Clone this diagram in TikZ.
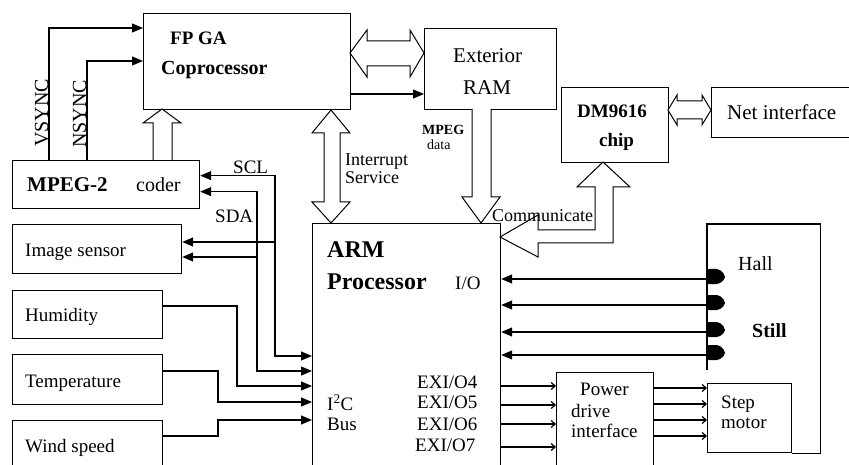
\documentclass[tikz,border=0pt]{standalone}
\usepackage{fontspec}
\setmainfont{Liberation Serif}
\usetikzlibrary{arrows.meta, calc}

\begin{document}
\begin{tikzpicture}[x=1pt, y=-1pt,
  blk/.style={draw, line width=1.2pt, inner sep=0pt, anchor=north west},
  txt/.style={anchor=base west, inner sep=0pt, font=\fontsize{#1}{#1}\selectfont},
  txt/.default=19,
  btxt/.style={anchor=base west, inner sep=0pt, font=\fontsize{#1}{#1}\selectfont\bfseries},
  btxt/.default=19,
  wire/.style={line width=1.2pt},
  arr/.style={wire, -{Triangle[length=11pt,width=9pt]}},
  darr/.style={wire, {Triangle[length=11pt,width=9pt]}-{Triangle[length=11pt,width=9pt]}},
  thinarr/.style={wire, -{Straight Barb[length=4pt,width=7pt]}},
  hollow/.style={draw, line width=1pt, fill=white, line join=miter}
]
  \useasboundingbox (0,0) rectangle (849,465);

  % Blocks
  \node[blk, minimum width=207pt, minimum height=96pt] (fpga) at (143,13) {};
  \node[blk, minimum width=132pt, minimum height=81pt] (ram) at (424,28) {};
  \node[blk, minimum width=107pt, minimum height=75pt] (dm) at (561,87) {};
  \node[blk, minimum width=150pt, minimum height=50pt] (net) at (711,87) {};
  \node[blk, minimum width=187pt, minimum height=48pt] (mpeg) at (12,160) {};
  \node[blk, minimum width=169pt, minimum height=49pt] (img) at (12,224) {};
  \node[blk, minimum width=150pt, minimum height=48pt] (hum) at (12,290) {};
  \node[blk, minimum width=150pt, minimum height=50pt] (temp) at (12,354) {};
  \node[blk, minimum width=150pt, minimum height=60pt] (wind) at (12,420) {};
  \node[blk, minimum width=188pt, minimum height=260pt] (arm) at (312,223) {};
  \node[blk, minimum width=97pt, minimum height=110pt] (power) at (556,372) {};
  \node[blk, minimum width=84pt, minimum height=69pt] (step) at (707,383) {};
  \node[blk, draw=none, minimum width=112pt, minimum height=228pt] (hall) at (707,224) {};
  \draw[wire] ([yshift=-146pt]hall.north west) -- (hall.north west) -- (hall.north east)
    -- (hall.south east) -- (step.south east);

  % Texts
  \node[btxt] (fpgat1) at (170,45) {FP GA};
  \node[btxt=20] (fpgat2) at (161,75) {Coprocessor};
  \node[txt=21] (ramt1) at (453,63) {Exterior};
  \node[txt=21] (ramt2) at (463,95) {RAM};
  \node[btxt=14] (mdat1) at (422,135) {MPEG};
  \node[txt=14] (mdat2) at (427,150) {data};
  \node[btxt] (dmt1) at (577,118) {DM9616};
  \node[btxt] (dmt2) at (599,147) {chip};
  \node[txt=21] (nett) at (727,120) {Net interface};
  \node[btxt=21] (mpegt1) at (27,192) {MPEG-2};
  \node[txt=20] (mpegt2) at (136,192) {coder};
  \node[txt] (sclt) at (233,174) {SCL};
  \node[txt] (sdat) at (215,223) {SDA};
  \node[txt=20, rotate=90] (vsynct) at (48,147) {VSYNC};
  \node[txt=20, rotate=90] (nsynct) at (86,148) {NSYNC};
  \node[txt=18] (intt1) at (345,166) {Interrupt};
  \node[txt=18] (intt2) at (345,184) {Service};
  \node[txt] (imgt) at (25,257) {Image sensor};
  \node[txt] (humt) at (25,321) {Humidity};
  \node[txt] (tempt) at (25,387) {Temperature};
  \node[txt] (windt) at (25,452) {Wind speed};
  \node[btxt=24] (armt1) at (327,258) {ARM};
  \node[btxt=24] (armt2) at (327,290) {Processor};
  \node[txt] (iot) at (455,290) {I/O};
  \node[txt] (i2ct) at (327,410) {I\textsuperscript{2}C};
  \node[txt] (bust) at (327,430) {Bus};
  \node[txt] (exi4) at (417,388) {EXI/O4};
  \node[txt] (exi5) at (417,408) {EXI/O5};
  \node[txt] (exi6) at (417,430) {EXI/O6};
  \node[txt] (exi7) at (415,451) {EXI/O7};
  \node[txt=20] (hallt) at (738,270) {Hall};
  \node[btxt=20] (stillt) at (752,337) {Still};
  \node[txt] (powt1) at (580,395) {Power};
  \node[txt] (powt2) at (571,417) {drive};
  \node[txt] (powt3) at (571,437) {interface};
  \node[txt] (stept1) at (721,408) {Step};
  \node[txt] (stept2) at (721,428) {motor};

  % Sync lines
  \draw[arr] ([xshift=37pt]mpeg.north west) |- ([yshift=-15pt]fpga.north west);
  \draw[arr] ([xshift=75pt]mpeg.north west) |- ([yshift=-48pt]fpga.north west);
  \draw[arr] ([yshift=-81pt]fpga.north east) -- ([yshift=-66pt]ram.north west);

  % I2C bus
  \draw[darr] ([yshift=9pt]mpeg.east) -| (275,356) -- (arm.west |- 0,356);
  \draw[darr] ([yshift=-7pt]mpeg.east) -| (257,371) -- (arm.west |- 0,371);
  \draw[arr] (275,242) -- (img.east |- 0,242);
  \draw[arr] (257,257) -- (img.east |- 0,257);
  \draw[arr] (hum.east |- 0,306) -| (237,386) -- (arm.west |- 0,386);
  \draw[arr] (temp.east |- 0,371) -| (218,402) -- (arm.west |- 0,402);
  \draw[arr] (wind.east |- 0,436) -| (218,420) -- (arm.west |- 0,420);

  % Hall sensors
  \foreach \y in {279,305,332,355} {
    \draw[arr] (hall.west |- 0,\y) -- (arm.east |- 0,\y);
    \fill[rounded corners=2pt] (707,\y-10) -- (719,\y-10) -- (725,\y-4)
      -- (725,\y) -- (719,\y+5) -- (707,\y+5) -- cycle;
  }

  % Motor drive
  \foreach \y in {386,405,424,447}
    \draw[thinarr] (arm.east |- 0,\y) -- (power.west |- 0,\y);
  \foreach \y in {388,404,420,436}
    \draw[thinarr] (power.east |- 0,\y) -- (step.west |- 0,\y);

  % Bus arrows
  \draw[hollow] (350,53) -- (367,30) -- (367,41) -- (410,41) -- (410,30) -- (424,53)
    -- (410,77) -- (410,66) -- (367,66) -- (367,77) -- cycle;
  \draw[hollow] (153,160) -- (153,123) -- (143,123) -- (162,109) -- (181,123)
    -- (172,123) -- (172,160);
  \draw[hollow] (331,110) -- (350,133) -- (340,133) -- (340,202) -- (350,202)
    -- (331,223) -- (312,202) -- (324,202) -- (324,133) -- (312,133) -- cycle;
  \draw[hollow] (472,109) -- (472,197) -- (462,197) -- (481,223) -- (500,197)
    -- (491,197) -- (491,109);
  \draw[hollow] (500,237) -- (538,215) -- (538,230) -- (595,230) -- (595,187)
    -- (577,187) -- (603,162) -- (630,187) -- (613,187) -- (613,243)
    -- (538,243) -- (538,257) -- cycle;
  \draw[hollow] (668,110) -- (677,95) -- (677,101) -- (702,101) -- (702,95) -- (711,110)
    -- (702,125) -- (702,119) -- (677,119) -- (677,125) -- cycle;
  \node[txt=18] (commt) at (492,222) {Communicate};
\end{tikzpicture}
\end{document}
